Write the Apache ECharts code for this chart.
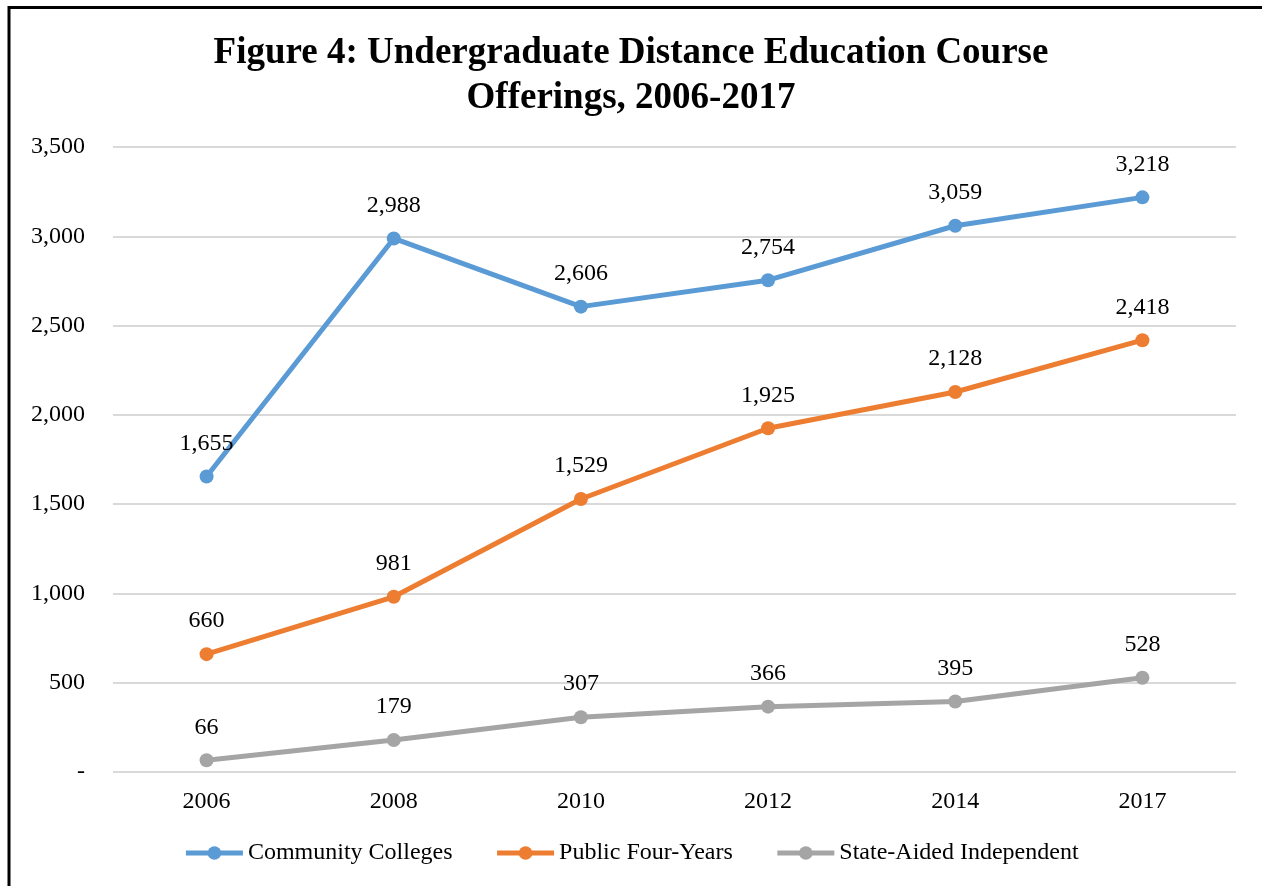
<!DOCTYPE html>
<html>
<head>
<meta charset="utf-8">
<script src="https://cdn.jsdelivr.net/npm/echarts@6/dist/echarts.min.js"></script>
<style>
  html, body { margin: 0; padding: 0; background: #fff; }
  #chart { width: 1262px; height: 886px; }
</style>
</head>
<body>
<div id="chart"></div>
<script>
const years = ['2006', '2008', '2010', '2012', '2014', '2017'];
const communityColleges = [1655, 2988, 2606, 2754, 3059, 3218];
const publicFourYears = [660, 981, 1529, 1925, 2128, 2418];
const stateAidedIndependent = [66, 179, 307, 366, 395, 528];

const serif = '"Liberation Serif", "Times New Roman", serif';
const fmt = (v) => (v === 0 ? '-' : v.toLocaleString('en-US'));

const chart = echarts.init(document.getElementById('chart'));

const makeSeries = (name, data, color) => ({
  name,
  type: 'line',
  data,
  symbol: 'circle',
  symbolSize: 14,
  lineStyle: { width: 5, color },
  itemStyle: { color },
  label: {
    show: true,
    position: 'top',
    distance: 14,
    fontFamily: serif,
    fontSize: 24,
    color: '#000',
    formatter: (p) => fmt(p.value)
  }
});

chart.setOption({
  animation: false,
  textStyle: { fontFamily: serif },
  title: {
    text: 'Figure 4: Undergraduate Distance Education Course\nOfferings, 2006-2017',
    left: 'center',
    top: 26,
    textStyle: {
      fontFamily: serif,
      fontSize: 37,
      fontWeight: 'bold',
      color: '#000',
      lineHeight: 45
    }
  },
  graphic: [{
    type: 'rect',
    shape: { x: 9, y: 7.5, width: 1400, height: 1000 },
    style: { fill: 'none', stroke: '#000', lineWidth: 3 }
  }],
  legend: {
    bottom: 16,
    left: 'center',
    itemWidth: 57,
    itemHeight: 17,
    itemGap: 42,
    lineStyle: { width: 5 },
    textStyle: { fontFamily: serif, fontSize: 24, color: '#000' },
    data: ['Community Colleges', 'Public Four-Years', 'State-Aided Independent']
  },
  grid: { left: 113, right: 26, top: 147, bottom: 114 },
  xAxis: {
    type: 'category',
    data: years,
    boundaryGap: true,
    axisLine: { show: false },
    axisTick: { show: false },
    axisLabel: { fontFamily: serif, fontSize: 24, color: '#000', margin: 18 }
  },
  yAxis: {
    type: 'value',
    min: 0,
    max: 3500,
    interval: 500,
    axisLine: { show: false },
    axisTick: { show: false },
    splitLine: { lineStyle: { color: '#d9d9d9', width: 2 } },
    axisLabel: {
      fontFamily: serif,
      fontSize: 24,
      color: '#000',
      margin: 28,
      formatter: fmt
    }
  },
  series: [
    makeSeries('Community Colleges', communityColleges, '#5B9BD5'),
    makeSeries('Public Four-Years', publicFourYears, '#ED7D31'),
    makeSeries('State-Aided Independent', stateAidedIndependent, '#A5A5A5')
  ]
});
</script>
</body>
</html>
